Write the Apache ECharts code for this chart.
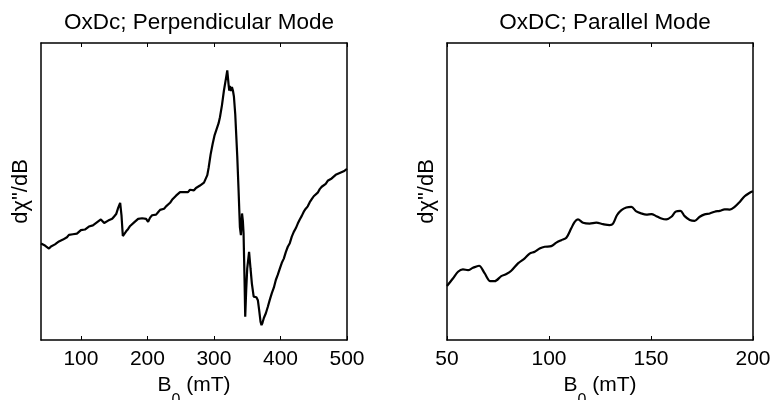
<!DOCTYPE html>
<html>
<head>
<meta charset="utf-8">
<script src="https://cdn.jsdelivr.net/npm/echarts@6/dist/echarts.min.js"></script>
<style>
html,body{margin:0;padding:0;background:#fff;}
#chart{width:772px;height:400px;}
</style>
</head>
<body>
<div id="chart"></div>
<script>
// Perpendicular mode: field (mT) and signal (arbitrary units 0-100)
const perpField = [40,43,46,49,52,55,58,61,64,67,70,73,76,79,82,85,88,91,94,97,100,103,106,109,112,115,118,121,124,127,130,132,135,138,141,144,147,150,153,156,159,161,163,165,168,171,174,177,180,183,186,189,192,195,198,201,204,207,210,213,216,219,222,225,228,231,234,237,240,243,246,249,252,255,258,261,264,267,270,273,276,279,282,285,288,290,292,295,298,301,304,307,309,312,315,318,320,322,323,324,325.5,327,328.5,330,332,335,337,339,340.5,342.2,343.5,344.5,346,347,348.5,350,352.8,355,357,359.7,362,363.8,366,368,370,371.5,373,375,378,381,384,387,390,393,396,399,402,405,408,411,414,417,420,423,426,429,432,435,438,441,444,447,450,453,456,459,462,465,468,471,474,477,480,483,486,489,492,495,498,500];
const perpSignal = [32.5,32.8,31.8,31.2,30.8,31.5,31.2,32.2,32.6,33.2,33.0,33.8,34.2,34.6,35.4,35.0,35.6,36.2,35.8,36.4,37.0,37.6,37.2,37.8,38.2,38.0,38.6,39.0,39.6,39.2,40.6,41.2,39.4,39.0,40.2,40.0,40.8,41.6,42.4,44.5,46.2,42.0,35.0,35.6,36.6,37.4,38.4,39.0,39.6,40.0,40.8,40.6,41.0,40.4,40.8,39.8,41.2,42.0,42.6,42.2,43.0,43.8,43.4,44.2,45.0,44.6,46.2,47.2,47.8,48.6,49.2,49.8,50.4,49.8,50.2,49.8,50.6,50.0,50.4,51.2,51.8,52.0,52.6,53.0,53.6,55.5,58.0,62.5,66.0,69.0,71.0,73.0,75.0,79.0,84.0,88.0,90.8,86.0,84.0,85.5,83.8,85.2,84.0,82.0,76.0,62.0,50.4,38.0,35.3,42.6,40.0,36.0,20.0,7.8,17.0,24.0,29.7,24.0,19.0,14.6,14.8,14.4,13.4,10.0,6.2,5.0,5.8,7.4,9.0,11.2,13.6,15.8,17.6,20.2,22.0,24.0,26.0,27.4,29.6,31.4,32.6,34.8,36.4,37.6,39.2,40.6,41.8,43.2,44.2,45.0,46.4,47.4,48.4,49.0,49.6,50.8,51.6,52.0,52.6,53.6,53.8,54.4,54.6,55.6,55.0,56.2,56.0,56.8,57.2,57.6];

// Parallel mode
const parField = [50,52.9,55.4,57.8,60.3,62.7,65.7,68.5,71.2,73.4,76.6,79.1,81.5,84.8,88.1,90.5,93,95.4,97.9,101.1,103.6,106,108.5,110.9,112.6,114.2,116.7,119.9,123.2,126.5,129.7,131.4,133.3,135.5,137.9,140.4,142.8,145.3,147.7,150.2,152.6,155.1,157.5,160,162.1,164.4,166.5,169,171.4,173.9,176.3,178.8,181.2,183.7,186.1,188.6,191,193.5,195.9,198.4,200];
const parSignal = [18.2,20.7,23.0,23.8,23.5,24.3,25.0,22.4,19.8,19.8,21.5,22.2,23.3,25.8,27.5,29.1,29.7,30.8,31.4,31.6,32.8,33.6,34.4,37.6,39.8,40.6,39.5,39.2,39.5,39.0,38.7,39.2,42.0,43.7,44.6,44.8,43.3,42.6,42.2,42.4,41.7,40.9,40.6,41.5,43.2,43.5,41.7,40.4,40.1,41.5,42.3,42.6,43.2,43.5,44.0,43.9,44.8,46.5,48.4,49.6,50.1];

const titles = ['OxDc; Perpendicular Mode', 'OxDC; Parallel Mode'];
const perpTicks = [100,200,300,400,500];
const yLabel = 'dχ"/dB';

const FONT = '"Liberation Sans", Arial, Helvetica, sans-serif';
const pair = (xs, ys) => xs.map((x, i) => [x, ys[i]]);

function xAx(gi, min, max, ticks, interval) {
  const common = {
    type: 'value', gridIndex: gi, min: min, max: max,
    splitLine: {show: false},
    axisLine: {show: true, onZero: false, lineStyle: {color: '#000', width: 1.5}}
  };
  if (interval) common.interval = interval;
  const bottom = Object.assign({}, common, {
    position: 'bottom',
    axisTick: {show: true, inside: true, length: 4, lineStyle: {color: '#000'}},
    axisLabel: {show: true, color: '#000', fontSize: 21, fontFamily: FONT, margin: 9},
    name: '{b|B}{s|0}{b| (mT)}',
    nameLocation: 'middle', nameGap: 30,
    nameTextStyle: {
      color: '#000', fontFamily: FONT,
      rich: {
        b: {fontSize: 21, fontFamily: FONT, color: '#000', verticalAlign: 'top', lineHeight: 24},
        s: {fontSize: 16, fontFamily: FONT, color: '#000', verticalAlign: 'top', lineHeight: 24, padding: [18, 0, 0, 0]}
      }
    }
  });
  const top = Object.assign({}, common, {
    position: 'top',
    axisTick: {show: true, inside: true, length: 4, lineStyle: {color: '#000'}},
    axisLabel: {show: false}
  });
  if (ticks) {
    bottom.axisTick.customValues = ticks;
    bottom.axisLabel.customValues = ticks;
    top.axisTick.customValues = ticks;
  }
  return [bottom, top];
}

function yAx(gi) {
  return [
    {
      type: 'value', gridIndex: gi, min: 0, max: 100, position: 'left',
      splitLine: {show: false}, axisTick: {show: false}, axisLabel: {show: false},
      axisLine: {show: true, lineStyle: {color: '#000', width: 1.5}},
      name: yLabel, nameLocation: 'middle', nameRotate: 90, nameGap: 9,
      nameTextStyle: {color: '#000', fontSize: 22, fontFamily: FONT}
    },
    {
      type: 'value', gridIndex: gi, min: 0, max: 100, position: 'right',
      splitLine: {show: false}, axisTick: {show: false}, axisLabel: {show: false},
      axisLine: {show: true, lineStyle: {color: '#000', width: 1.5}}
    }
  ];
}

const chart = echarts.init(document.getElementById('chart'), null, {renderer: 'canvas'});
chart.setOption({
  animation: false,
  backgroundColor: '#fff',
  title: [
    {text: titles[0], left: 194, top: 6, textAlign: 'center',
     textStyle: {fontSize: 22.5, fontWeight: 'normal', color: '#000', fontFamily: FONT}},
    {text: titles[1], left: 600, top: 6, textAlign: 'center',
     textStyle: {fontSize: 22.5, fontWeight: 'normal', color: '#000', fontFamily: FONT}}
  ],
  grid: [
    {left: 41, top: 43, width: 306, height: 297, containLabel: false, outerBoundsMode: 'none'},
    {left: 447, top: 43, width: 306, height: 297, containLabel: false, outerBoundsMode: 'none'}
  ],
  xAxis: [].concat(xAx(0, 40, 500, perpTicks, null), xAx(1, 50, 200, null, 50)),
  yAxis: [].concat(yAx(0), yAx(1)),
  series: [
    {type: 'line', xAxisIndex: 0, yAxisIndex: 0, data: pair(perpField, perpSignal),
     showSymbol: false, lineStyle: {color: '#000', width: 2.2}},
    {type: 'line', xAxisIndex: 2, yAxisIndex: 2, data: pair(parField, parSignal),
     showSymbol: false, smooth: 0.3, lineStyle: {color: '#000', width: 2.2}}
  ]
});
</script>
</body>
</html>
